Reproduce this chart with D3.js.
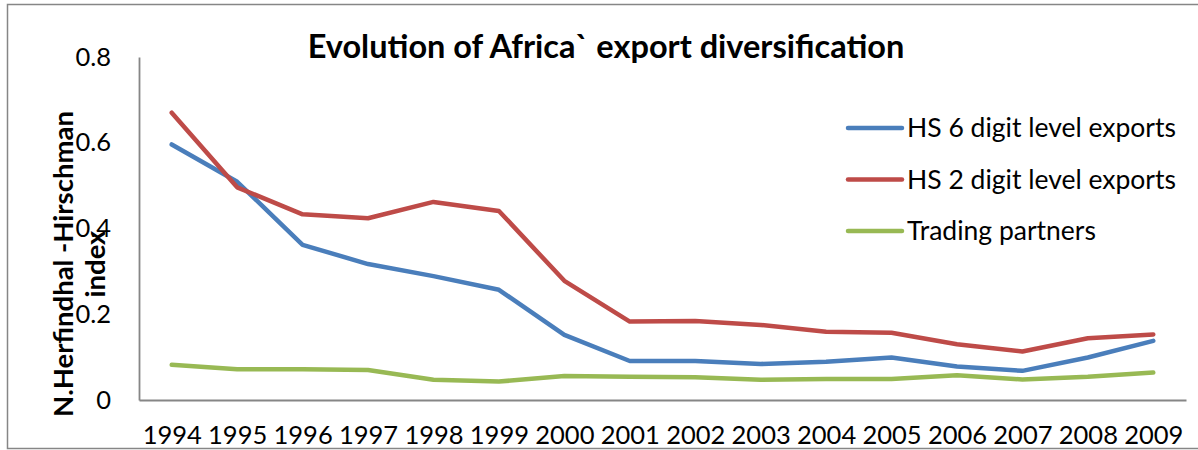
<!DOCTYPE html>
<html>
<head>
<meta charset="utf-8">
<script src="https://d3js.org/d3.v7.min.js"></script>
<style>
  html, body { margin: 0; padding: 0; background: #fff; }
  svg { display: block; font-family: Lato, "Open Sans", sans-serif; }
</style>
</head>
<body>
<div id="chart"></div>
<script>
const years = ['1994', '1995', '1996', '1997', '1998', '1999', '2000', '2001',
  '2002', '2003', '2004', '2005', '2006', '2007', '2008', '2009'];
const hs6 = [0.596, 0.509, 0.362, 0.317, 0.289, 0.257, 0.152, 0.091,
  0.091, 0.084, 0.089, 0.099, 0.078, 0.068, 0.099, 0.138];
const hs2 = [0.670, 0.496, 0.433, 0.424, 0.462, 0.441, 0.278, 0.183,
  0.184, 0.175, 0.159, 0.157, 0.130, 0.113, 0.144, 0.153];
const partners = [0.082, 0.072, 0.072, 0.070, 0.047, 0.043, 0.056, 0.054,
  0.053, 0.047, 0.049, 0.049, 0.058, 0.048, 0.054, 0.064];
const yTicks = [0, 0.2, 0.4, 0.6, 0.8];

const series = [
  { name: 'HS 6 digit level exports', values: hs6, color: '#4A7EBB' },
  { name: 'HS 2 digit level exports', values: hs2, color: '#BE4B48' },
  { name: 'Trading partners', values: partners, color: '#98B954' }
];

const width = 1198, height = 450;
const margin = { top: 57, right: 12, bottom: 50, left: 139 };

const svg = d3.select('#chart').append('svg')
  .attr('width', width)
  .attr('height', height);

// outer chart border
svg.append('rect')
  .attr('x', 7.5).attr('y', 4.5)
  .attr('width', 1200).attr('height', 444)
  .attr('fill', 'none')
  .attr('stroke', '#868686')
  .attr('stroke-width', 1.5);

const x = d3.scalePoint()
  .domain(years)
  .range([margin.left, width - margin.right])
  .padding(0.5);

const y = d3.scaleLinear()
  .domain([0, 0.8])
  .range([height - margin.bottom, margin.top]);

// axes
const xAxis = svg.append('g')
  .attr('transform', `translate(0, ${y(0)})`)
  .call(d3.axisBottom(x).tickSize(0).tickPadding(26));
xAxis.select('.domain').attr('stroke', '#868686').attr('stroke-width', 1.8);
xAxis.selectAll('text')
  .attr('font-size', '25.5px')
  .attr('font-family', 'Lato, sans-serif')
  .attr('fill', '#000');

const yAxis = svg.append('g')
  .attr('transform', `translate(${margin.left}, 0)`)
  .call(d3.axisLeft(y).tickValues(yTicks).tickSize(0).tickPadding(28)
    .tickFormat(d => d === 0 ? '0' : d3.format('.1f')(d)));
yAxis.select('.domain').attr('stroke', '#868686').attr('stroke-width', 1.8);
yAxis.selectAll('text')
  .attr('font-size', '25.5px')
  .attr('font-family', 'Lato, sans-serif')
  .attr('fill', '#000');

// lines
const line = d3.line()
  .x((d, i) => x(years[i]))
  .y(d => y(d));

series.forEach(s => {
  svg.append('path')
    .datum(s.values)
    .attr('d', line)
    .attr('fill', 'none')
    .attr('stroke', s.color)
    .attr('stroke-width', 4.5)
    .attr('stroke-linejoin', 'round')
    .attr('stroke-linecap', 'round');
});

// title
svg.append('text')
  .attr('x', 606)
  .attr('y', 58)
  .attr('text-anchor', 'middle')
  .attr('font-size', '32.5px')
  .attr('font-weight', 'bold')
  .text('Evolution of Africa` export diversification');

// y axis title (two lines)
const yTitle = svg.append('text')
  .attr('transform', 'translate(73, 264) rotate(-90)')
  .attr('text-anchor', 'middle')
  .attr('font-size', '27.5px')
  .attr('font-weight', 'bold');
yTitle.append('tspan').attr('x', 0).attr('dy', 0).text('N.Herfindhal -Hirschman');
yTitle.append('tspan').attr('x', 0).attr('dy', 32).text('index');

// legend
const legend = svg.append('g')
  .attr('transform', 'translate(848, 128)');

const items = legend.selectAll('.legend-item')
  .data(series)
  .enter()
  .append('g')
  .attr('class', 'legend-item')
  .attr('transform', (d, i) => `translate(0, ${i * 51.5})`);

items.append('line')
  .attr('x1', 0).attr('x2', 54)
  .attr('stroke', d => d.color)
  .attr('stroke-width', 4.5)
  .attr('stroke-linecap', 'round');

items.append('text')
  .attr('x', 59)
  .attr('dy', '0.35em')
  .attr('font-size', '26.5px')
  .text(d => d.name);
</script>
</body>
</html>
